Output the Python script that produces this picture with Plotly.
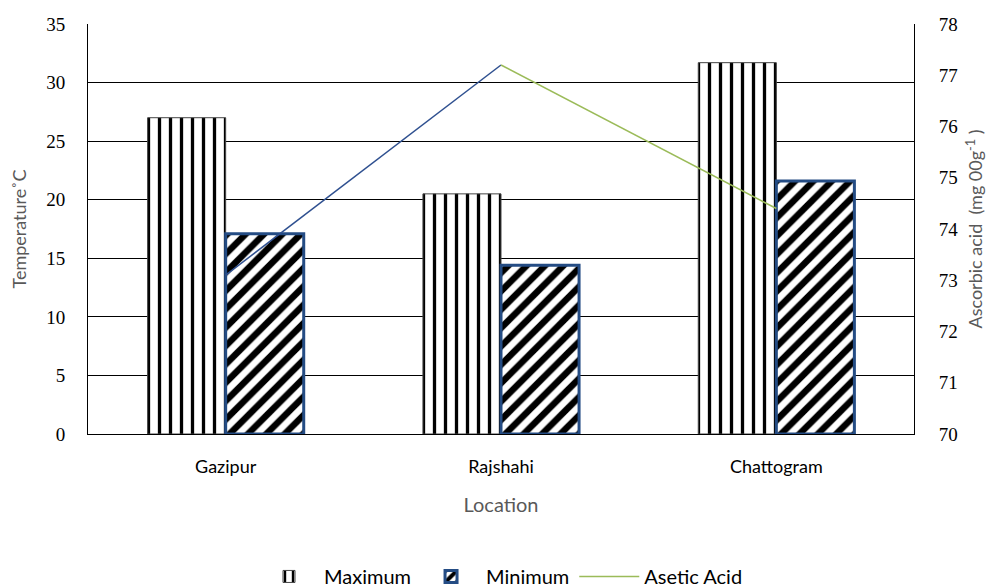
import plotly.graph_objects as go

locations = ["Gazipur", "Rajshahi", "Chattogram"]
t_max = [27.0, 20.5, 31.7]
t_min = [17.1, 14.4, 21.6]
acid = [73.1, 77.2, 74.4]

fig = go.Figure()

fig.add_trace(go.Bar(
    x=locations, y=t_max, name="Maximum",
    marker=dict(color="white", line=dict(color="#444444", width=1),
                pattern=dict(shape="|", fgcolor="black", bgcolor="white",
                             fgopacity=1, size=11, solidity=0.3)),
))
fig.add_trace(go.Bar(
    x=locations, y=t_min, name="Minimum",
    marker=dict(color="white", line=dict(color="#244C84", width=3),
                pattern=dict(shape="/", fgcolor="black", bgcolor="white",
                             fgopacity=1, size=13, solidity=0.5)),
))
# first segment of the acid line is blue, the rest green (as in the source chart)
fig.add_trace(go.Scatter(
    x=locations[:2], y=acid[:2], yaxis="y2", mode="lines",
    line=dict(color="#2F5090", width=1.5), showlegend=False, hoverinfo="skip",
))
fig.add_trace(go.Scatter(
    x=locations[1:], y=acid[1:], yaxis="y2", mode="lines", name="Asetic Acid",
    line=dict(color="#9BBB59", width=1.5),
))

SANS = "Lato, Open Sans, Liberation Sans, sans-serif"
serif = dict(family="Liberation Serif, Times New Roman, serif", size=19, color="black")
gray_title = dict(family=SANS, size=18, color="#595959")

# page body has an 8px default margin, so the figure is made 8px smaller
fig.update_layout(
    width=988, height=579,
    paper_bgcolor="white", plot_bgcolor="white",
    margin=dict(l=80, r=82, t=16, b=153, autoexpand=False),
    barmode="group", bargap=0.433, bargroupgap=0,
    font=dict(family=SANS, color="black"),
    xaxis=dict(
        title=dict(text="Location", font=dict(family=SANS, size=20, color="#595959"), standoff=22),
        tickfont=dict(family=SANS, size=18, color="black"),
        ticklabelstandoff=16, automargin=False,
        showline=True, linecolor="black", linewidth=1,
        ticks="", showgrid=False,
    ),
    yaxis=dict(
        title=dict(text="Temperature˚C", font=gray_title, standoff=14),
        range=[0, 35], dtick=5, tickfont=serif, ticklabelstandoff=18, automargin=False,
        showgrid=True, gridcolor="black", gridwidth=1,
        showline=True, linecolor="black", linewidth=1,
        ticks="", zeroline=False,
    ),
    yaxis2=dict(
        title=dict(text="Ascorbic acid  (mg 00g<sup>-1</sup> )", font=gray_title, standoff=12),
        range=[70, 78], dtick=1, tickfont=serif, ticklabelstandoff=20, automargin=False,
        overlaying="y", side="right", showgrid=False,
        showline=True, linecolor="black", linewidth=1,
        ticks="", zeroline=False,
    ),
    legend=dict(
        orientation="h", x=0.5, xanchor="center", y=-0.395, yanchor="bottom",
        font=dict(family=SANS, size=20, color="black"),
        itemwidth=60, tracegroupgap=0,
    ),
)

fig.write_html("out.html")
